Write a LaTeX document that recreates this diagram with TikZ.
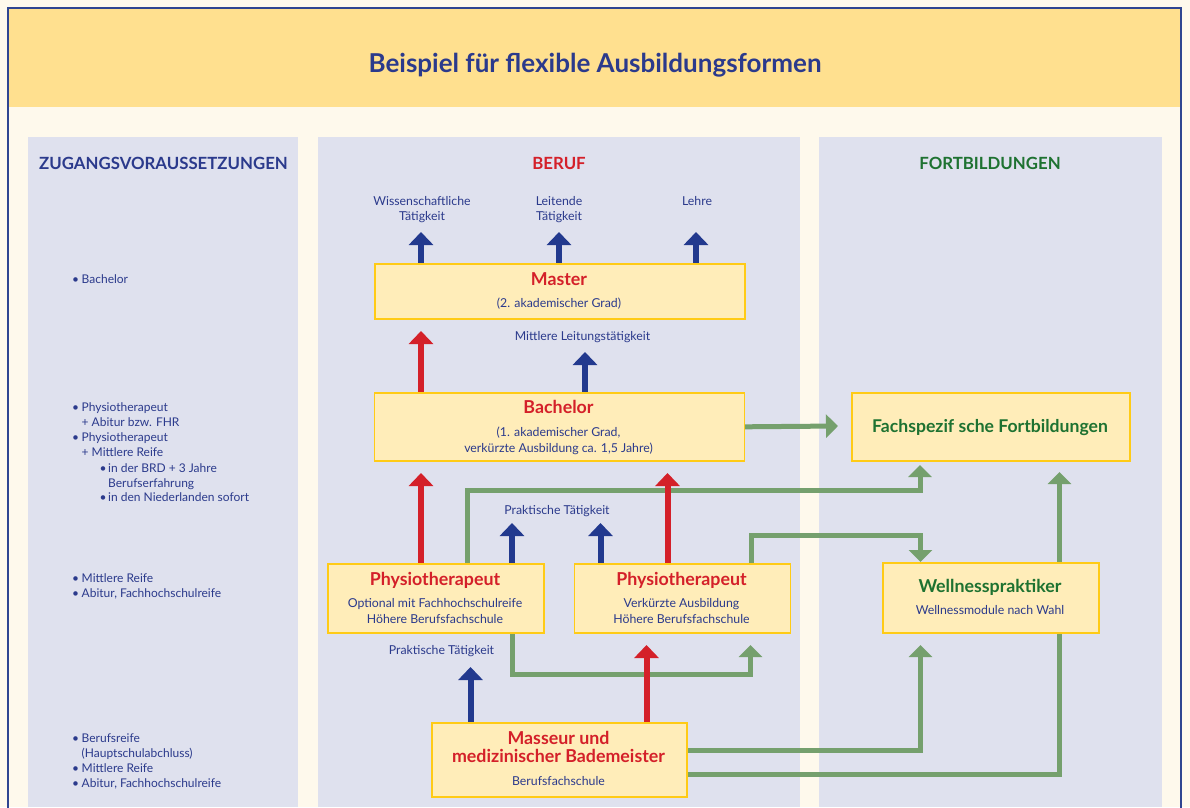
\documentclass[tikz,border=0pt]{standalone}
\usepackage{fontspec}
\setmainfont{Lato}
\usetikzlibrary{arrows.meta,calc}
\pgfdeclarelayer{bg}\pgfdeclarelayer{lines}\pgfsetlayers{bg,lines,main}
\definecolor{cream}{HTML}{FEF9EC}
\definecolor{band}{HTML}{FFE08F}
\definecolor{colbg}{HTML}{DFE1EE}
\definecolor{frameblue}{HTML}{2F4591}
\definecolor{txtblue}{HTML}{2B3A8C}
\definecolor{arrowblue}{HTML}{22398E}
\definecolor{myred}{HTML}{D42029}
\definecolor{txtgreen}{HTML}{1E7231}
\definecolor{linegreen}{HTML}{75A06D}
\definecolor{boxfill}{HTML}{FFEDB9}
\definecolor{boxline}{HTML}{FFCB16}
\newcommand\bul{\makebox[9.5pt][l]{•}}
\newcommand\bulb{\makebox[8.5pt][l]{•}}
\begin{document}
\begin{tikzpicture}[x=1pt,y=-1pt,
  box/.style={draw=boxline, fill=boxfill, line width=1.6pt, inner sep=0pt, anchor=north west},
  txt/.style={text=txtblue, font=\fontsize{12.3}{14}\selectfont, inner sep=0pt, anchor=base},
  ltxt/.style={text=txtblue, font=\fontsize{12}{14}\selectfont, inner sep=0pt, anchor=base west},
  ttl/.style={text=myred, font=\fontsize{17.8}{19}\selectfont\bfseries, inner sep=0pt, anchor=base},
  gttl/.style={ttl, text=txtgreen},
  hdr/.style={font=\fontsize{16.8}{19}\selectfont\bfseries, inner sep=0pt, anchor=base},
  barrow/.style={draw=arrowblue, line width=6pt, -{Triangle[width=24pt,length=13pt]}},
  rarrow/.style={draw=myred, line width=6pt, -{Triangle[width=24pt,length=13pt]}},
  garrow/.style={draw=linegreen, line width=5pt, -{Triangle[width=23pt,length=12pt]}}
]
\useasboundingbox (0,0) rectangle (1190,807);
\begin{pgfonlayer}{bg}
  \fill[cream] (0,0) rectangle (1190,807);
  \fill[band] (8,8) rectangle (1181,107);
  \draw[frameblue, line width=1.6pt] (8,812) -- (8,8) -- (1181,8) -- (1181,812);
  \fill[colbg] (28,137) rectangle (298,807);
  \fill[colbg] (318,137) rectangle (800,807);
  \fill[colbg] (819,137) rectangle (1162,807);
\end{pgfonlayer}

% title and headers
\node[hdr, text=txtblue, font=\fontsize{26}{30}\selectfont\bfseries] (title) at (595,72) {Beispiel für flexible Ausbildungsformen};
\node[hdr, text=txtblue] (h1) at (163.5,169) {ZUGANGSVORAUSSETZUNGEN};
\node[hdr, text=myred] (h2) at (559,169) {BERUF};
\node[hdr, text=txtgreen] (h3) at (990,169) {FORTBILDUNGEN};

% left column
\node[ltxt] (l1) at (72,283) {\bul Bachelor};
\node[ltxt] (l2) at (72,411) {\bul Physiotherapeut};
\node[ltxt] (l3) at (81.5,426) {+ Abitur bzw. FHR};
\node[ltxt] (l4) at (72,441) {\bul Physiotherapeut};
\node[ltxt] (l5) at (81.5,456) {+ Mittlere Reife};
\node[ltxt] (l6) at (99.5,472) {\bulb in der BRD + 3 Jahre};
\node[ltxt] (l7) at (108,487) {Berufserfahrung};
\node[ltxt] (l8) at (99.5,501) {\bulb in den Niederlanden sofort};
\node[ltxt] (l9) at (72,582) {\bul Mittlere Reife};
\node[ltxt] (l10) at (72,597) {\bul Abitur, Fachhochschulreife};
\node[ltxt] (l11) at (72,742) {\bul Berufsreife};
\node[ltxt] (l12) at (81.5,757) {(Hauptschulabchluss)};
\node[ltxt] (l13) at (72,772) {\bul Mittlere Reife};
\node[ltxt] (l14) at (72,787) {\bul Abitur, Fachhochschulreife};

% top labels
\node[txt] (w1) at (422,205) {Wissenschaftliche};
\node[txt] (w2) at (422,220) {Tätigkeit};
\node[txt] (le1) at (559,205) {Leitende};
\node[txt] (le2) at (559,220) {Tätigkeit};
\node[txt] (lehre) at (697,205) {Lehre};

% boxes
\node[box, minimum width=370pt, minimum height=55pt] (master) at (374,263) {};
\node[ttl] (masterT) at (559,285.5) {Master};
\node[txt] (masterS) at (559,307.5) {(2. akademischer Grad)};
\node[txt] (mlt) at (582.5,340) {Mittlere Leitungstätigkeit};

\node[box, minimum width=370pt, minimum height=68pt] (bachelor) at (373.5,392) {};
\node[ttl] (bachT) at (558.5,413.5) {Bachelor};
\node[txt] (bachS1) at (558.5,436.5) {(1. akademischer Grad,};
\node[txt] (bachS2) at (558.5,452.5) {verkürzte Ausbildung ca. 1,5 Jahre)};

\node[box, minimum width=278pt, minimum height=68pt] (fach) at (851,392) {};
\node[gttl, font=\fontsize{17.6}{19}\selectfont\bfseries] (fachT) at (990,432.5) {Fachspezif sche Fortbildungen};

\node[txt] (prak1) at (557,514) {Praktische Tätigkeit};

\node[box, minimum width=216pt, minimum height=69pt] (physio1) at (327,563) {};
\node[ttl] (p1T) at (435,585.5) {Physiotherapeut};
\node[txt] (p1S1) at (435,607.5) {Optional mit Fachhochschulreife};
\node[txt] (p1S2) at (435,623.5) {Höhere Berufsfachschule};

\node[box, minimum width=216pt, minimum height=69pt] (physio2) at (573.5,563) {};
\node[ttl] (p2T) at (681.5,585.5) {Physiotherapeut};
\node[txt] (p2S1) at (681.5,607.5) {Verkürzte Ausbildung};
\node[txt] (p2S2) at (681.5,623.5) {Höhere Berufsfachschule};

\node[box, minimum width=216pt, minimum height=70pt] (well) at (882,562) {};
\node[gttl] (wT) at (990,592.5) {Wellnesspraktiker};
\node[txt] (wS) at (990,614.5) {Wellnessmodule nach Wahl};

\node[txt] (prak2) at (441.5,654) {Praktische Tätigkeit};

\node[box, minimum width=255pt, minimum height=74pt] (masseur) at (431,722) {};
\node[ttl] (mT1) at (558.5,744.5) {Masseur und};
\node[ttl] (mT2) at (558.5,762.5) {medizinischer Bademeister};
\node[txt] (mS) at (558.5,785.5) {Berufsfachschule};

% connectors
\begin{pgfonlayer}{lines}
  % green
  \draw[garrow] (bachelor.east) -- (838,426);
  \draw[garrow] (physio1.north -| 467,0) -- (467,490) -- (920,490) -- (920,465);
  \draw[garrow] (physio2.north -| 751,0) -- (751,535.5) -- (920.5,535.5) -- (well.north -| 920.5,0);
  \draw[garrow] (physio1.south -| 512,0) -- (512,674.5) -- (750.5,674.5) -- (750.5,645);
  \draw[garrow] (masseur.east |- 0,750.5) -- (920.5,750.5) -- (920.5,645);
  \draw[garrow] (masseur.east |- 0,774.5) -- (1059.5,774.5) -- (1059.5,472);
  % blue
  \draw[barrow] (master.north -| 421,0) -- (421,232);
  \draw[barrow] (master.north -| 559,0) -- (559,232);
  \draw[barrow] (master.north -| 696,0) -- (696,232);
  \draw[barrow] (bachelor.north -| 585,0) -- (585,352);
  \draw[barrow] (physio1.north -| 512,0) -- (512,523);
  \draw[barrow] (physio2.north -| 600.5,0) -- (600.5,523);
  \draw[barrow] (masseur.north -| 470.5,0) -- (470.5,667);
  % red
  \draw[rarrow] (bachelor.north -| 421,0) -- (421,331);
  \draw[rarrow] (physio1.north -| 421,0) -- (421,473);
  \draw[rarrow] (physio2.north -| 667.5,0) -- (667.5,473);
  \draw[rarrow] (masseur.north -| 646.5,0) -- (646.5,645);
\end{pgfonlayer}
\end{tikzpicture}
\end{document}
